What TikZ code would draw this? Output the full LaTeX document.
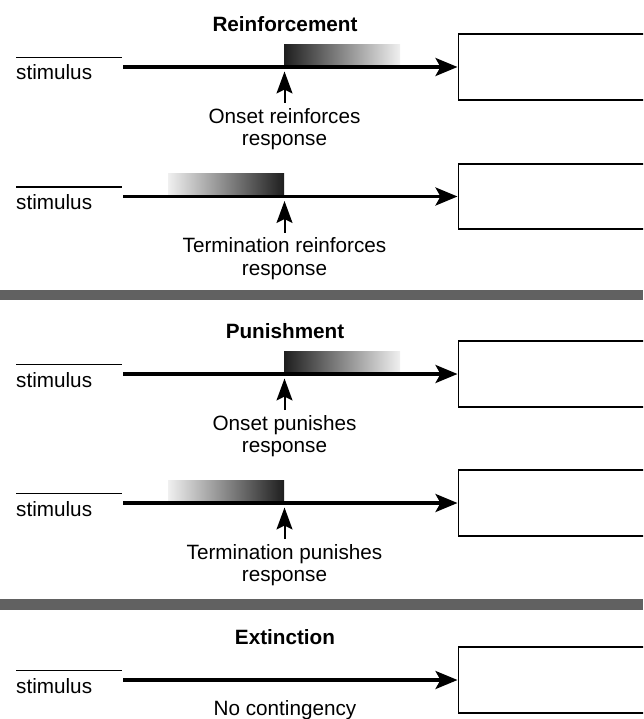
\documentclass[tikz,border=0pt]{standalone}
\usepackage{fontspec}
\setmainfont{Liberation Sans}
\usetikzlibrary{arrows.meta}
\begin{document}
\begin{tikzpicture}[x=1pt,y=-1pt,
  every node/.style={font=\fontsize{20.7}{22.7}\selectfont},
  resbox/.style={draw, line width=1.6pt, minimum width=220pt, minimum height=65.5pt, anchor=west, inner sep=0pt},
  stimtext/.style={anchor=base west, inner sep=0pt},
  rowtitle/.style={font=\fontsize{20.7}{22.7}\selectfont\bfseries, anchor=base, inner sep=0pt},
  labeltext/.style={align=center, anchor=north, inner sep=5pt},
  plainlabel/.style={anchor=base, inner sep=0pt},
  mainarrow/.style={line width=3.2pt, -{Stealth[length=22pt,width=18pt,inset=5pt]}},
  uparrow/.style={line width=2pt, -{Stealth[length=22pt,width=16pt,inset=4pt]}},
  stimline/.style={line width=1.3pt},
  sepband/.style={fill=black!62, draw=none},
  onsetshade/.style={left color=black!88, right color=black!6, draw=none},
  termshade/.style={left color=black!6, right color=black!88, draw=none},
]
\clip (0,0) rectangle (643,719);
\fill[white] (0,0) rectangle (643,719);

% ---------- Row 1: Reinforcement, onset ----------
\node[rowtitle] (title1) at (285,31.5) {Reinforcement};
\node[resbox] (box1) at (457.5,67) {};
\coordinate (sl1a) at (16,57.5);
\coordinate (sl1b) at (122,57.5);
\draw[stimline] (sl1a) -- (sl1b);
\node[stimtext] (stim1) at (16,80) {stimulus};
\fill[onsetshade] (284,44.5) rectangle (400,67);
\coordinate (start1) at (123,67);
\draw[mainarrow] (start1) -- (box1.west);
\node[labeltext] (lab1) at (284.5,103) {Onset reinforces\\response};
\coordinate (tip1) at (284.5,71.5);
\draw[uparrow] (lab1.north) -- (tip1);

% ---------- Row 2: Reinforcement, termination ----------
\node[resbox] (box2) at (457.5,196.5) {};
\coordinate (sl2a) at (16,187);
\coordinate (sl2b) at (122,187);
\draw[stimline] (sl2a) -- (sl2b);
\node[stimtext] (stim2) at (16,209.5) {stimulus};
\fill[termshade] (168,174) rectangle (284,196.5);
\coordinate (start2) at (123,196.5);
\draw[mainarrow] (start2) -- (box2.west);
\node[labeltext] (lab2) at (284.5,232.5) {Termination reinforces\\response};
\coordinate (tip2) at (284.5,201);
\draw[uparrow] (lab2.north) -- (tip2);

% ---------- separator ----------
\fill[sepband] (0,290) rectangle (643,300);

% ---------- Row 3: Punishment, onset ----------
\node[rowtitle] (title3) at (285,338.5) {Punishment};
\node[resbox] (box3) at (457.5,374) {};
\coordinate (sl3a) at (16,364.5);
\coordinate (sl3b) at (122,364.5);
\draw[stimline] (sl3a) -- (sl3b);
\node[stimtext] (stim3) at (16,387) {stimulus};
\fill[onsetshade] (284,351.5) rectangle (400,374);
\coordinate (start3) at (123,374);
\draw[mainarrow] (start3) -- (box3.west);
\node[labeltext] (lab3) at (284.5,410) {Onset punishes\\response};
\coordinate (tip3) at (284.5,378.5);
\draw[uparrow] (lab3.north) -- (tip3);

% ---------- Row 4: Punishment, termination ----------
\node[resbox] (box4) at (457.5,503) {};
\coordinate (sl4a) at (16,493.5);
\coordinate (sl4b) at (122,493.5);
\draw[stimline] (sl4a) -- (sl4b);
\node[stimtext] (stim4) at (16,516) {stimulus};
\fill[termshade] (168,480.5) rectangle (284,503);
\coordinate (start4) at (123,503);
\draw[mainarrow] (start4) -- (box4.west);
\node[labeltext] (lab4) at (284.5,539) {Termination punishes\\response};
\coordinate (tip4) at (284.5,507.5);
\draw[uparrow] (lab4.north) -- (tip4);

% ---------- separator ----------
\fill[sepband] (0,599) rectangle (643,610);

% ---------- Row 5: Extinction ----------
\node[rowtitle] (title5) at (285,644.5) {Extinction};
\node[resbox] (box5) at (457.5,680) {};
\coordinate (sl5a) at (16,670.5);
\coordinate (sl5b) at (122,670.5);
\draw[stimline] (sl5a) -- (sl5b);
\node[stimtext] (stim5) at (16,693) {stimulus};
\coordinate (start5) at (123,680);
\draw[mainarrow] (start5) -- (box5.west);
\node[plainlabel] (lab5) at (285,715) {No contingency};
\end{tikzpicture}
\end{document}
